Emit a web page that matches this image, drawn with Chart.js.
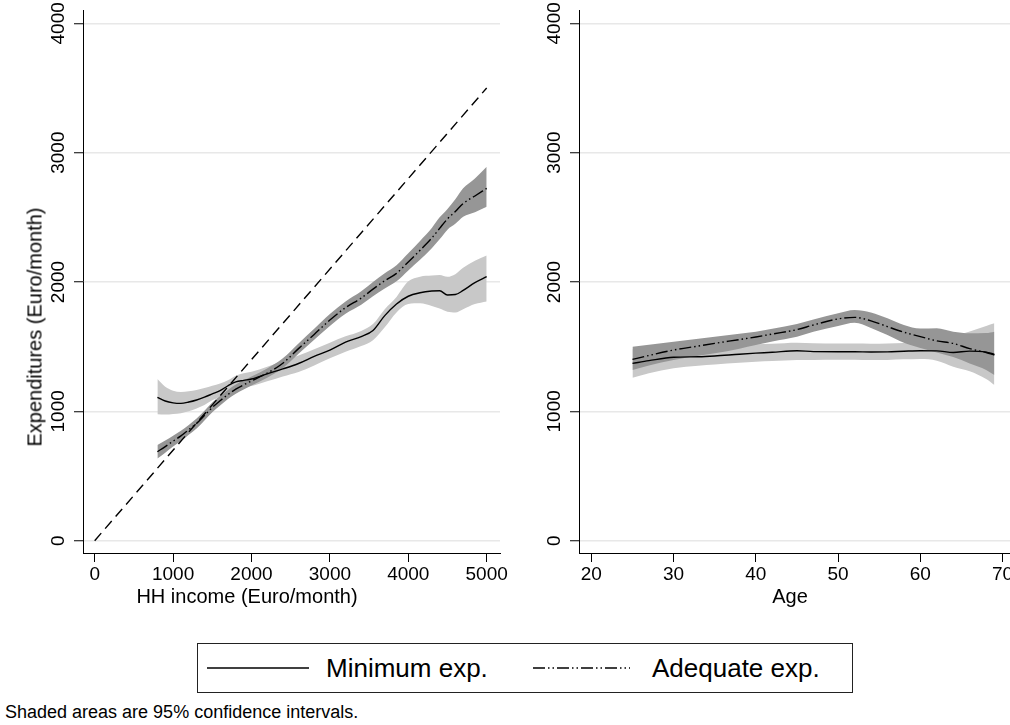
<!DOCTYPE html>
<html><head><meta charset="utf-8">
<script src="https://cdn.jsdelivr.net/npm/chart.js@4.4.0/dist/chart.umd.min.js"></script>
<style>
html,body{margin:0;padding:0;background:#fff;overflow:hidden;width:1010px;height:725px;position:relative;font-family:"Liberation Sans",Arial,sans-serif;color:#000}
.abs{position:absolute;white-space:nowrap}
#c1{position:absolute;left:0;top:0}
#c2{position:absolute;left:506px;top:0}
#ytitle{left:35px;top:327px;font-size:20px;transform:translate(-50%,-50%) rotate(-90deg);}
#xtitle1{left:247px;top:596px;font-size:20px;transform:translate(-50%,-50%);}
#xtitle2{left:790px;top:596px;font-size:20px;transform:translate(-50%,-50%);}
#legend{left:197px;top:643px;width:654px;height:48px;border:1.5px solid #222;}
#note{left:5px;top:712px;font-size:18px;transform:translateY(-50%);}
.lt{position:absolute;top:50%;transform:translateY(-50%);font-size:26px}
</style></head>
<body>
<canvas id="c1" width="530" height="600" style="width:530px;height:600px"></canvas>
<canvas id="c2" width="530" height="600" style="width:530px;height:600px"></canvas>
<div class="abs" id="ytitle">Expenditures (Euro/month)</div>
<div class="abs" id="xtitle1">HH income (Euro/month)</div>
<div class="abs" id="xtitle2">Age</div>
<div class="abs" id="legend">
  <svg style="position:absolute;left:0;top:0" width="654" height="48">
    <line x1="9" y1="24" x2="111" y2="24" stroke="#000" stroke-width="1.5"/>
    <line x1="335" y1="24" x2="432" y2="24" stroke="#000" stroke-width="1.5" stroke-dasharray="12 3 1.5 3 1.5 3"/>
  </svg>
  <span class="lt" style="left:128px">Minimum exp.</span>
  <span class="lt" style="left:454px">Adequate exp.</span>
</div>
<div class="abs" id="note">Shaded areas are 95% confidence intervals.</div>
<script>
// ---------- data ----------
const yTicks = [0, 1000, 2000, 3000, 4000];
const incomeTicks = [0, 1000, 2000, 3000, 4000, 5000];
const ageTicks = [20, 30, 40, 50, 60, 70];

const income = [800, 900, 1000, 1100, 1200, 1300, 1400, 1500, 1600, 1700, 1800, 1900, 2000, 2200, 2400, 2600, 2800, 3000, 3200, 3400, 3550, 3700, 3850, 4000, 4150, 4300, 4400, 4500, 4600, 4700, 4850, 5000];
const incMin      = [1108, 1080, 1066, 1062, 1072, 1088, 1110, 1135, 1160, 1198, 1228, 1240, 1250, 1290, 1328, 1370, 1425, 1474, 1535, 1578, 1625, 1740, 1830, 1890, 1917, 1930, 1932, 1900, 1903, 1935, 1995, 2041];
const incMinUp    = [1250, 1190, 1160, 1150, 1155, 1165, 1180, 1198, 1215, 1240, 1275, 1295, 1307, 1345, 1390, 1432, 1480, 1531, 1580, 1622, 1675, 1790, 1885, 2005, 2041, 2050, 2054, 2040, 2060, 2110, 2165, 2205];
const incMinLo    = [977, 975, 980, 985, 1000, 1023, 1050, 1085, 1115, 1150, 1178, 1188, 1196, 1232, 1270, 1305, 1355, 1410, 1460, 1505, 1550, 1650, 1765, 1830, 1835, 1815, 1795, 1770, 1765, 1790, 1830, 1850];
const incAdq      = [688, 728, 770, 810, 858, 907, 968, 1030, 1082, 1130, 1172, 1205, 1235, 1296, 1372, 1485, 1595, 1706, 1802, 1876, 1945, 2010, 2067, 2155, 2245, 2340, 2415, 2488, 2545, 2607, 2665, 2724];
const incAdqUp    = [740, 775, 812, 850, 895, 945, 1005, 1068, 1118, 1165, 1207, 1240, 1270, 1332, 1410, 1525, 1638, 1752, 1850, 1928, 2000, 2068, 2130, 2222, 2318, 2418, 2500, 2565, 2640, 2724, 2800, 2891];
const incAdqLo    = [635, 680, 728, 770, 820, 868, 930, 993, 1045, 1095, 1137, 1170, 1200, 1260, 1335, 1445, 1553, 1660, 1755, 1825, 1890, 1950, 2005, 2090, 2172, 2262, 2330, 2405, 2450, 2505, 2540, 2582];
const diagX = [0, 5000];
const diagY = [0, 3500];

const age = [25, 27, 30, 33, 35, 38, 40, 42, 45, 47, 50, 52, 54, 56, 58, 60, 62, 64, 66, 68, 69];
const ageMin      = [1371, 1392, 1418, 1422, 1428, 1442, 1450, 1457, 1469, 1462, 1461, 1461, 1459, 1460, 1465, 1469, 1468, 1455, 1466, 1458, 1441];
const ageMinUp    = [1480, 1490, 1500, 1505, 1510, 1515, 1518, 1523, 1531, 1527, 1525, 1524, 1523, 1525, 1528, 1531, 1542, 1580, 1618, 1660, 1681];
const ageMinLo    = [1260, 1295, 1333, 1352, 1362, 1375, 1384, 1390, 1397, 1398, 1400, 1400, 1398, 1398, 1402, 1405, 1392, 1345, 1310, 1250, 1204];
const ageAdq      = [1402, 1432, 1474, 1505, 1526, 1555, 1575, 1598, 1632, 1668, 1715, 1727, 1700, 1655, 1612, 1578, 1545, 1525, 1485, 1455, 1436];
const ageAdqUp    = [1500, 1515, 1539, 1562, 1577, 1600, 1616, 1638, 1675, 1710, 1758, 1783, 1765, 1720, 1668, 1640, 1642, 1615, 1603, 1605, 1616];
const ageAdqLo    = [1320, 1355, 1397, 1430, 1449, 1485, 1513, 1540, 1577, 1615, 1660, 1685, 1645, 1590, 1530, 1490, 1455, 1420, 1370, 1320, 1281];

// ---------- helpers ----------
const FONT = '"Liberation Sans", Arial, sans-serif';
const LIGHT = '#c8c8c8', DARK = '#969696';
const ADQ_DASH = [12, 3, 1.5, 3, 1.5, 3];
function pts(xs, ys) { return xs.map((x, i) => ({x: x, y: ys[i]})); }

function line(data, dash, order) {
  return {data: data, borderColor: '#000', borderWidth: 1.4, borderDash: dash, pointRadius: 0,
          fill: false, order: order, cubicInterpolationMode: 'monotone'};
}
function band(data, color, target, order) {
  return {data: data, borderWidth: 0, borderColor: 'rgba(0,0,0,0)', backgroundColor: color, pointRadius: 0,
          fill: target === null ? false : {target: target}, order: order, cubicInterpolationMode: 'monotone'};
}

function makeOptions(xmin, xmax, xticks, yAxisWidth, padRight) {
  return {
    responsive: false, animation: false, events: [],
    layout: {padding: {top: 10, right: padRight, left: 0, bottom: 0}, autoPadding: false},
    plugins: {legend: {display: false}, tooltip: {enabled: false}},
    scales: {
      x: {type: 'linear', min: xmin, max: xmax,
          afterBuildTicks: s => { s.ticks = xticks.map(v => ({value: v})); },
          afterFit: s => { s.height = 47; },
          grid: {drawOnChartArea: false, tickLength: 9, tickColor: '#000', tickWidth: 1},
          border: {color: '#000', width: 1},
          ticks: {color: '#000', font: {family: FONT, size: 19}, padding: 1, maxRotation: 0, callback: v => String(v)}},
      y: {type: 'linear', min: -95, max: 4103,
          afterBuildTicks: s => { s.ticks = yTicks.map(v => ({value: v})); },
          afterFit: s => { s.width = yAxisWidth; },
          grid: {color: '#e8e8e8', lineWidth: 1.5, tickLength: 9, tickColor: '#000', tickWidth: 1},
          border: {color: '#000', width: 1},
          ticks: {color: '#000', font: {family: FONT, size: 19}, padding: -6, minRotation: 90, maxRotation: 90,
                  crossAlign: 'center', callback: v => String(v)}}
    }
  };
}

// ---------- left chart: income ----------
new Chart(document.getElementById('c1'), {
  type: 'line',
  data: {datasets: [
    line(pts(income, incMin), [], 0),
    line(pts(income, incAdq), ADQ_DASH, 1),
    line(pts(diagX, diagY), [10, 6], 2),
    band(pts(income, incAdqUp), DARK, 4, 3),
    band(pts(income, incAdqLo), DARK, null, 4),
    band(pts(income, incMinUp), LIGHT, 6, 5),
    band(pts(income, incMinLo), LIGHT, null, 6)
  ]},
  options: makeOptions(-149, 5170, incomeTicks, 83, 30)
});

// ---------- right chart: age ----------
new Chart(document.getElementById('c2'), {
  type: 'line',
  data: {datasets: [
    line(pts(age, ageMin), [], 0),
    line(pts(age, ageAdq), ADQ_DASH, 1),
    band(pts(age, ageAdqUp), DARK, 3, 3),
    band(pts(age, ageAdqLo), DARK, null, 4),
    band(pts(age, ageMinUp), LIGHT, 5, 5),
    band(pts(age, ageMinLo), LIGHT, null, 6)
  ]},
  options: makeOptions(18.5, 70.9, ageTicks, 73, 26)
});
</script>
</body></html>
